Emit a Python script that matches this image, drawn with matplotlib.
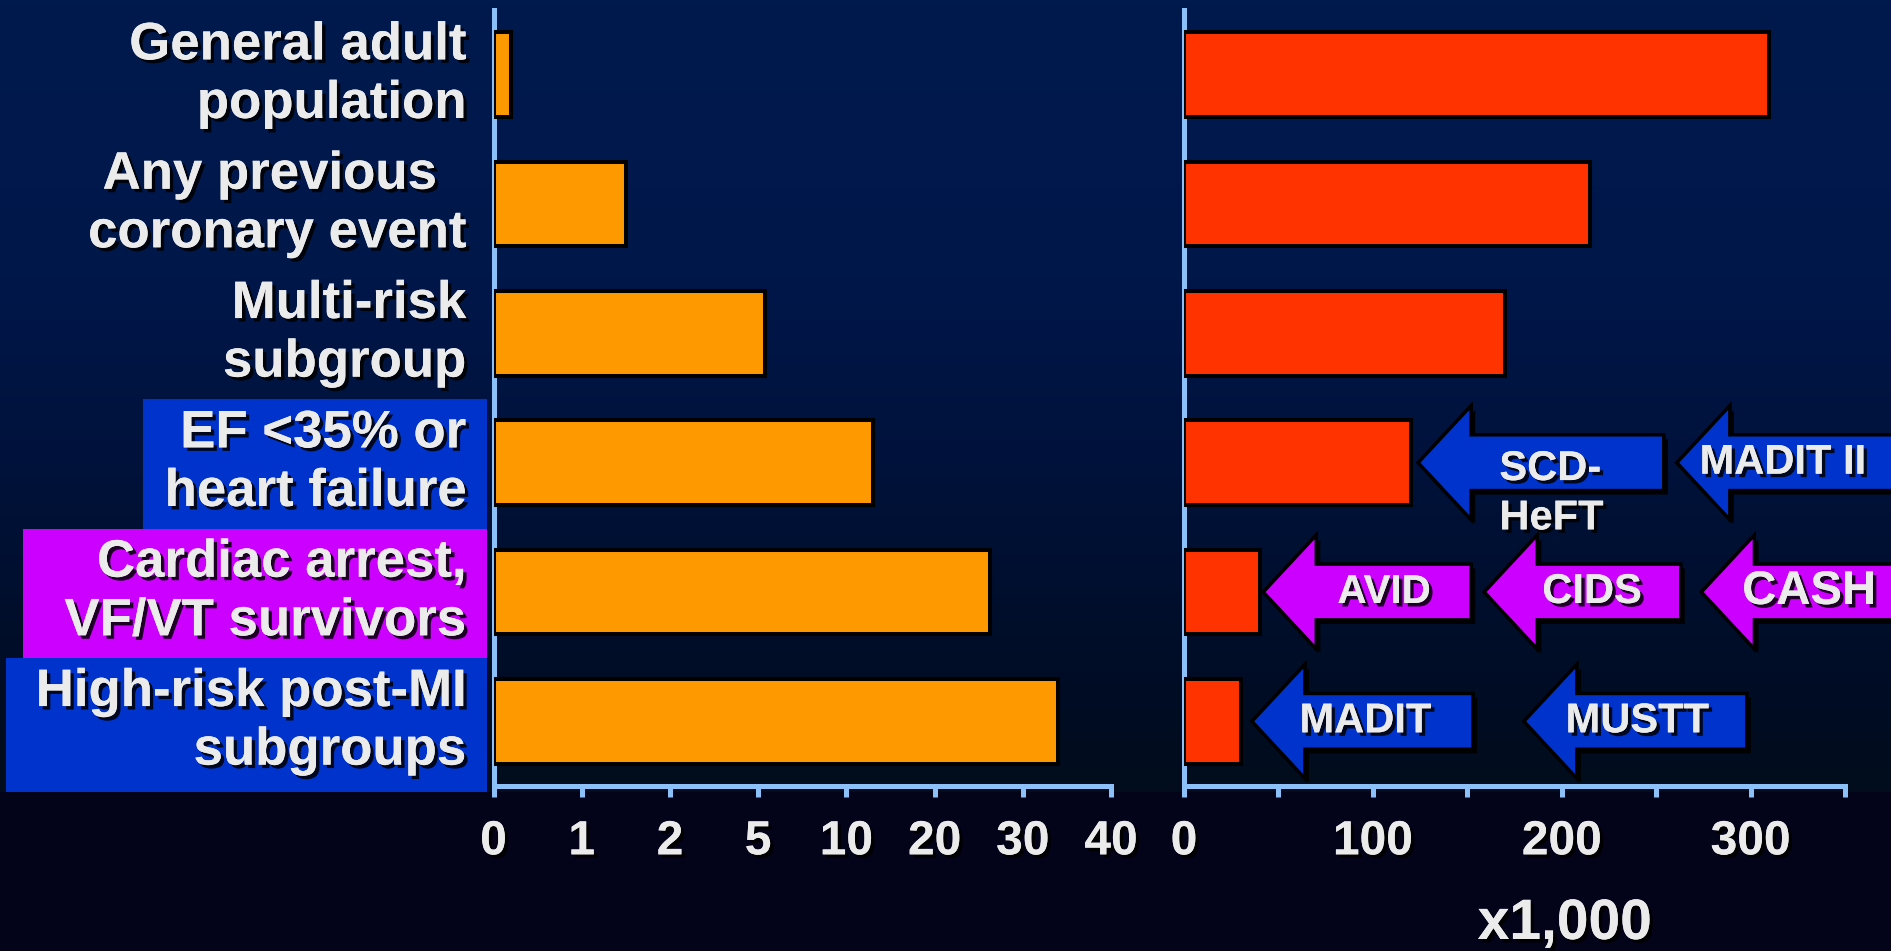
import numpy as np
import matplotlib
matplotlib.use("Agg")
import matplotlib.pyplot as plt
from matplotlib import patheffects as pe
from matplotlib.patches import Polygon, Rectangle
from matplotlib.colors import LinearSegmentedColormap
from matplotlib.transforms import blended_transform_factory

plt.rcParams['font.family'] = ['Liberation Sans', 'DejaVu Sans']
plt.rcParams['font.weight'] = 'bold'

# ---- data ----------------------------------------------------------------
categories = [
    "General adult\npopulation",
    "Any previous  \ncoronary event",
    "Multi-risk\nsubgroup",
    "EF <35% or\nheart failure",
    "Cardiac arrest,\nVF/VT survivors",
    "High-risk post-MI\nsubgroups",
]
incidence_pct = [0.2, 1.5, 5.4, 13, 26.3, 34]          # % per year
events_thousands = [310, 215, 170, 120, 40, 30]         # events per year, x1,000
incidence_ticks = [0, 1, 2, 5, 10, 20, 30, 40]
events_ticks = [0, 50, 100, 150, 200, 250, 300, 350]
events_ticklabels = ["0", "", "100", "", "200", "", "300", ""]

# trials shown as arrows: (name, category row, tip value, end of shaft, colour key)
trials = [
    ("SCD-\nHeFT", 3, 124, 254, "blue"),
    ("MADIT II", 3, 261, 380, "blue"),
    ("AVID", 4, 42, 152, "magenta"),
    ("CIDS", 4, 159, 263, "magenta"),
    ("CASH", 4, 274, 380, "magenta"),
    ("MADIT", 5, 36, 153, "blue"),
    ("MUSTT", 5, 180, 298, "blue"),
]
highlight_rows = {3: "blue", 4: "magenta", 5: "blue"}

# ---- style ---------------------------------------------------------------
W, H = 1891, 951
TEXT = "#ebebeb"
AXIS = "#8cc0f8"
ORANGE = "#ff9900"
RED = "#ff3300"
COL = {"blue": "#0033cc", "magenta": "#cc00ff"}
shadow = [pe.withSimplePatchShadow(offset=(2.5, -2.5), shadow_rgbFace="black", alpha=0.85),
          pe.Normal()]

fig = plt.figure(figsize=(W / 100, H / 100), dpi=100, facecolor="#03031a")

# gradient backdrop behind the chart area
bg = fig.add_axes([0, 159 / H, 1, 792 / H], zorder=-10)
bg.set_axis_off()
grad_cmap = LinearSegmentedColormap.from_list(
    "bg", [(0.0, "#001a4e"), (0.35, "#00174a"), (0.6, "#00123a"),
           (0.85, "#000d26"), (1.0, "#020c1c")])
bg.imshow(np.linspace(0, 1, 256)[:, None], aspect="auto", cmap=grad_cmap,
          extent=[0, 1, 0, 1], origin="upper")
bg.set_xlim(0, 1)
bg.set_ylim(0, 1)

left_ax = fig.add_axes([493.5 / W, 1 - 786 / H, (1111 - 493.5) / W, 776 / H])
right_ax = fig.add_axes([1184 / W, 1 - 786 / H, (1845 - 1184) / W, 776 / H])

# piecewise-linear incidence scale: equal spacing between the tick values
pos = np.arange(len(incidence_ticks), dtype=float)
def fwd(v):
    return np.interp(v, incidence_ticks, pos)
def inv(p):
    return np.interp(p, pos, incidence_ticks)
left_ax.set_xscale("function", functions=(fwd, inv))

rows = np.arange(len(categories))
for ax in (left_ax, right_ax):
    ax.set_facecolor("none")
    ax.set_ylim(len(categories) - 0.5, -0.5)
    for s in ("top", "right"):
        ax.spines[s].set_visible(False)
    for s in ("left", "bottom"):
        ax.spines[s].set_color(AXIS)
        ax.spines[s].set_linewidth(3.6)
    ax.tick_params(axis="x", colors=AXIS, direction="out", length=8, width=3.6,
                   pad=16, labelsize=34.5, labelcolor=TEXT)

left_ax.barh(rows, incidence_pct, height=0.656, color=ORANGE, edgecolor="black",
             linewidth=2.9, zorder=3)
right_ax.barh(rows, events_thousands, height=0.656, color=RED, edgecolor="black",
              linewidth=2.9, zorder=3)

left_ax.set_xlim(0, 40)
left_ax.set_xticks(incidence_ticks)
left_ax.set_xticklabels([str(t) for t in incidence_ticks], fontweight="bold")
right_ax.set_xlim(0, 350)
right_ax.set_xticks(events_ticks)
right_ax.set_xticklabels(events_ticklabels, fontweight="bold")
for ax in (left_ax, right_ax):
    for lab in ax.get_xticklabels():
        lab.set_path_effects(shadow)

# category labels
left_ax.set_yticks(rows)
left_ax.set_yticklabels(categories, fontsize=38, fontweight="bold", color=TEXT,
                        linespacing=1.22, va="center")
left_ax.tick_params(axis="y", length=0, pad=20)
right_ax.set_yticks([])
for lab in left_ax.get_yticklabels():
    lab.set_path_effects(shadow)

# coloured panels behind highlighted categories
box_left = {3: 143, 4: 23, 5: 6}
tr = blended_transform_factory(fig.transFigure, left_ax.transData)
for r, c in highlight_rows.items():
    x0 = box_left[r] / W
    bg.add_patch(Rectangle((x0, r - 0.49), 487 / W - x0, 1.04, transform=tr,
                           facecolor=COL[c], edgecolor="none", clip_on=False))

# trial arrows pointing at the event bars
head_len = 28
head_half, shaft_half = 0.44, 0.215
for name, r, tip, end, c in trials:
    back = tip + head_len
    verts = [(tip, r), (back, r - head_half), (back, r - shaft_half), (end, r - shaft_half),
             (end, r + shaft_half), (back, r + shaft_half), (back, r + head_half)]
    right_ax.add_patch(Polygon(verts, closed=True, facecolor=COL[c], edgecolor="black",
                               linewidth=2.4, joinstyle="miter", clip_on=False, zorder=4,
                               path_effects=[pe.withSimplePatchShadow(offset=(3, -3),
                                             shadow_rgbFace="black", alpha=0.9),
                                             pe.Normal()]))

label_pos = {"SCD-\nHeFT": (167, "left", 30), "MADIT II": (317, "center", 30),
             "AVID": (106, "center", 29), "CIDS": (216, "center", 30),
             "CASH": (331, "center", 34), "MADIT": (96, "center", 30),
             "MUSTT": (240, "center", 30)}
for name, r, tip, end, c in trials:
    x, ha, fs = label_pos[name]
    y = r + 0.24 if "\n" in name else r
    right_ax.text(x, y, name, ha=ha, va="center", fontsize=fs, fontweight="bold",
                  color=TEXT, linespacing=1.3, zorder=6, clip_on=False,
                  path_effects=shadow)

fig.text(1565 / W, 1 - 924 / H, "x1,000", ha="center", va="center", fontsize=41,
         fontweight="bold", color=TEXT, path_effects=shadow)

fig.savefig("out.png", dpi=100, facecolor=fig.get_facecolor())
